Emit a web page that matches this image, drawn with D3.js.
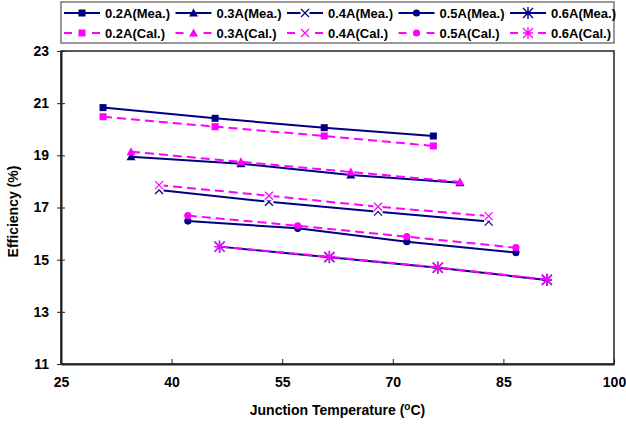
<!DOCTYPE html>
<html>
<head>
<meta charset="utf-8">
<script src="https://cdn.jsdelivr.net/npm/d3@7"></script>
<style>
  body { margin: 0; background: #fff; }
  svg { font-family: "Liberation Sans", Arial, sans-serif; font-weight: bold; }
</style>
</head>
<body>
<svg id="chart" width="626" height="427"></svg>
<script>
// junction temperature (C) and efficiency (%) per drive current
const currents = ['0.2A', '0.3A', '0.4A', '0.5A', '0.6A'];
const temp02 = [30.7, 45.9, 60.7, 75.5];
const mea02 = [20.83, 20.42, 20.06, 19.74];
const cal02 = [20.48, 20.10, 19.74, 19.36];
const temp03 = [34.5, 49.4, 64.3, 79.1];
const mea03 = [18.95, 18.68, 18.25, 17.95];
const cal03 = [19.14, 18.75, 18.36, 17.98];
const temp04 = [38.3, 53.2, 68.0, 83.0];
const mea04 = [17.67, 17.22, 16.84, 16.46];
const cal04 = [17.86, 17.45, 17.03, 16.67];
const temp05 = [42.2, 57.1, 71.9, 86.7];
const mea05 = [16.48, 16.20, 15.69, 15.27];
const cal05 = [16.69, 16.30, 15.88, 15.46];
const temp06 = [46.5, 61.4, 76.1, 90.9];
const mea06 = [15.50, 15.09, 14.69, 14.22];
const cal06 = [15.50, 15.11, 14.70, 14.24];

const xTicks = [25, 40, 55, 70, 85, 100];
const yTicks = [11, 13, 15, 17, 19, 21, 23];

const temps = [temp02, temp03, temp04, temp05, temp06];
const meas = [mea02, mea03, mea04, mea05, mea06];
const cals = [cal02, cal03, cal04, cal05, cal06];
const markers = ['square', 'triangle', 'x', 'circle', 'asterisk'];

const navy = '#000080', magenta = '#ff00ff';

// series order like the original sheet: all measured, then all calculated
let series = [];
currents.forEach((c, i) => series.push({ name: c + '(Mea.)', t: temps[i], e: meas[i], color: navy, dash: null, marker: markers[i] }));
currents.forEach((c, i) => series.push({ name: c + '(Cal.)', t: temps[i], e: cals[i], color: magenta, dash: '9,5', marker: markers[i] }));

const svg = d3.select('#chart');
const plotL = 61, plotR = 614, plotT = 51, plotB = 364;

const x = d3.scaleLinear().domain([25, 100]).range([plotL, plotR]);
const y = d3.scaleLinear().domain([11, 23]).range([plotB, plotT]);

function drawMarker(g, type, color) {
  if (type == 'square') {
    g.append('rect').attr('x', -3.5).attr('y', -3.5).attr('width', 7).attr('height', 7).attr('fill', color);
  } else if (type == 'triangle') {
    g.append('path').attr('d', 'M0,-4.5L4.5,3.5L-4.5,3.5Z').attr('fill', color);
  } else if (type == 'circle') {
    g.append('circle').attr('r', 3.6).attr('fill', color);
  } else if (type == 'x') {
    g.append('rect').attr('x', -4.5).attr('y', -4.5).attr('width', 9).attr('height', 9).attr('fill', '#fff');
    g.append('path').attr('d', 'M-4,-4L4,4M-4,4L4,-4').attr('stroke', color).attr('stroke-width', 1.2);
  } else if (type == 'asterisk') {
    g.append('path').attr('d', 'M-5,-5L5,5M-5,5L5,-5M0,-6V6M-5,0H5').attr('stroke', color).attr('stroke-width', 1.4);
  }
}

// plot frame
svg.append('rect')
  .attr('x', plotL).attr('y', plotT)
  .attr('width', plotR - plotL).attr('height', plotB - plotT)
  .attr('fill', 'none').attr('stroke', '#222').attr('stroke-width', 1.5);

// x axis
const xAxis = svg.append('g')
  .attr('transform', 'translate(0,' + plotB + ')')
  .call(d3.axisBottom(x).tickValues(xTicks).tickSizeInner(-5).tickSizeOuter(0).tickPadding(13));
xAxis.select('.domain').attr('stroke', '#222').attr('stroke-width', 2);
xAxis.selectAll('.tick line').attr('stroke', '#222');
xAxis.selectAll('text').attr('font-size', 14).attr('font-weight', 'bold').attr('font-family', '"Liberation Sans", Arial').attr('fill', '#000');

// y axis
const yAxis = svg.append('g')
  .attr('transform', 'translate(' + plotL + ',0)')
  .call(d3.axisLeft(y).tickValues(yTicks).tickSizeInner(4).tickSizeOuter(0).tickPadding(8));
yAxis.select('.domain').attr('stroke', '#222').attr('stroke-width', 2);
yAxis.selectAll('.tick line').attr('stroke', '#222').attr('x1', 4);
yAxis.selectAll('text').attr('font-size', 14).attr('font-weight', 'bold').attr('font-family', '"Liberation Sans", Arial').attr('fill', '#000');

// axis titles
const xTitle = svg.append('text')
  .attr('x', (plotL + plotR) / 2).attr('y', 415)
  .attr('text-anchor', 'middle').attr('font-size', 14);
xTitle.append('tspan').text('Junction Temperature (');
xTitle.append('tspan').attr('font-size', 10).attr('dy', -5).text('o');
xTitle.append('tspan').attr('dy', 5).text('C)');

svg.append('text')
  .attr('transform', 'translate(18,' + ((plotT + plotB) / 2 + 4) + ') rotate(-90)')
  .attr('text-anchor', 'middle').attr('font-size', 14)
  .text('Efficiency (%)');

// lines and markers
const line = d3.line().x(d => x(d[0])).y(d => y(d[1]));

series.forEach(s => {
  const pts = s.t.map((t, i) => [t, s.e[i]]);
  svg.append('path')
    .attr('d', line(pts))
    .attr('fill', 'none')
    .attr('stroke', s.color)
    .attr('stroke-width', 2)
    .attr('stroke-dasharray', s.dash);
});
series.forEach(s => {
  s.t.forEach((t, i) => {
    const g = svg.append('g').attr('transform', 'translate(' + x(t) + ',' + y(s.e[i]) + ')');
    drawMarker(g, s.marker, s.color);
  });
});

// legend
svg.append('rect')
  .attr('x', 61).attr('y', 2).attr('width', 553).attr('height', 41)
  .attr('fill', '#fff').attr('stroke', '#777').attr('stroke-width', 1.5);

series.forEach((s, i) => {
  const col = i % 5, row = Math.floor(i / 5);
  const lx = 64 + col * 111.5, ly = 13 + row * 20;
  const g = svg.append('g').attr('transform', 'translate(' + lx + ',' + ly + ')');
  g.append('line').attr('x1', 0).attr('x2', 36).attr('y1', 0).attr('y2', 0)
    .attr('stroke', s.color).attr('stroke-width', 2).attr('stroke-dasharray', s.dash ? '8,20,8' : null);
  const m = g.append('g').attr('transform', 'translate(18,0)');
  drawMarker(m, s.marker, s.color);
  g.append('text').attr('x', 41).attr('y', 0).attr('dy', '0.35em')
    .attr('font-size', 13).text(s.name);
});
</script>
</body>
</html>
